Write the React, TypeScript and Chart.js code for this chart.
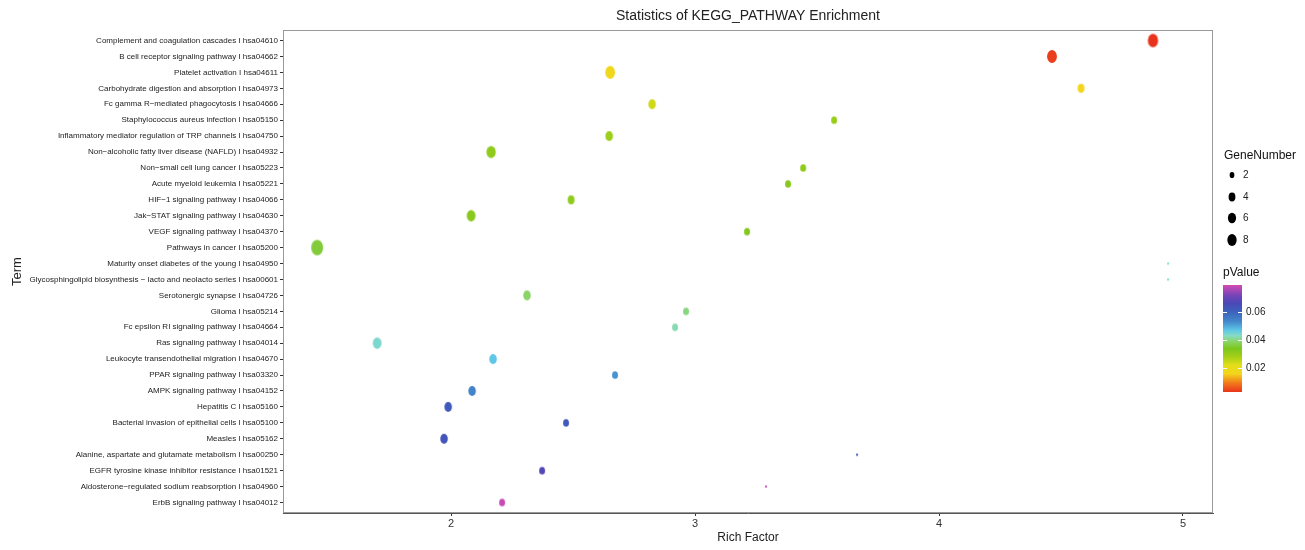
import React, { useEffect, useRef } from "react";
import { Chart, registerables } from "chart.js";

Chart.register(...registerables);

const terms = [
  "Complement and coagulation cascades I hsa04610",
  "B cell receptor signaling pathway I hsa04662",
  "Platelet activation I hsa04611",
  "Carbohydrate digestion and absorption I hsa04973",
  "Fc gamma R\u2212mediated phagocytosis I hsa04666",
  "Staphylococcus aureus infection I hsa05150",
  "Inflammatory mediator regulation of TRP channels I hsa04750",
  "Non\u2212alcoholic fatty liver disease (NAFLD) I hsa04932",
  "Non\u2212small cell lung cancer I hsa05223",
  "Acute myeloid leukemia I hsa05221",
  "HIF\u22121 signaling pathway I hsa04066",
  "Jak\u2212STAT signaling pathway I hsa04630",
  "VEGF signaling pathway I hsa04370",
  "Pathways in cancer I hsa05200",
  "Maturity onset diabetes of the young I hsa04950",
  "Glycosphingolipid biosynthesis \u2212 lacto and neolacto series I hsa00601",
  "Serotonergic synapse I hsa04726",
  "Glioma I hsa05214",
  "Fc epsilon RI signaling pathway I hsa04664",
  "Ras signaling pathway I hsa04014",
  "Leukocyte transendothelial migration I hsa04670",
  "PPAR signaling pathway I hsa03320",
  "AMPK signaling pathway I hsa04152",
  "Hepatitis C I hsa05160",
  "Bacterial invasion of epithelial cells I hsa05100",
  "Measles I hsa05162",
  "Alanine, aspartate and glutamate metabolism I hsa00250",
  "EGFR tyrosine kinase inhibitor resistance I hsa01521",
  "Aldosterone\u2212regulated sodium reabsorption I hsa04960",
  "ErbB signaling pathway I hsa04012",
];

const richFactor = [
  4.877, 4.463, 2.652, 4.582, 2.824, 3.57, 2.648, 2.164, 3.443, 3.381,
  2.492, 2.082, 3.213, 1.451, 4.939, 4.939, 2.311, 2.963, 2.918, 1.697,
  2.172, 2.672, 2.086, 1.988, 2.471, 1.971, 3.664, 2.373, 3.291, 2.209,
];

const geneNumber = [
  10, 9, 9, 4, 5, 3, 5, 8, 3, 3,
  4, 7, 3, 14, 1, 1, 5, 3, 3, 7,
  5, 3, 5, 5, 3, 5, 1, 3, 1, 3,
];

const pValue = [
  0.003, 0.004, 0.017, 0.016, 0.024, 0.03, 0.029, 0.031, 0.031, 0.032,
  0.031, 0.032, 0.033, 0.036, 0.043, 0.043, 0.039, 0.04, 0.042, 0.044,
  0.047, 0.052, 0.054, 0.062, 0.062, 0.063, 0.064, 0.067, 0.078, 0.078,
];

const xTicks = [2, 3, 4, 5];
const sizeBreaks = [2, 4, 6, 8];
const pBreaks = [0.02, 0.04, 0.06];

const P_MIN = 0.003;
const P_MAX = 0.079;

const colorStops: [number, string][] = [
  [0.003, "#e8341c"],
  [0.009, "#f2761a"],
  [0.016, "#f3d61c"],
  [0.022, "#e4de1a"],
  [0.028, "#a4d018"],
  [0.034, "#7cc61e"],
  [0.039, "#8ad46a"],
  [0.043, "#86dcc6"],
  [0.047, "#5ec6e6"],
  [0.053, "#4488cc"],
  [0.06, "#3c62bc"],
  [0.066, "#4a48b6"],
  [0.071, "#7044b8"],
  [0.079, "#d34bb4"],
];

function hexRgb(h: string): number[] {
  return [1, 3, 5].map((i) => parseInt(h.slice(i, i + 2), 16));
}

function colorFor(p: number): string {
  if (p <= colorStops[0][0]) return colorStops[0][1];
  for (let i = 1; i < colorStops.length; i++) {
    const [v1, c1] = colorStops[i];
    const [v0, c0] = colorStops[i - 1];
    if (p <= v1) {
      const t = (p - v0) / (v1 - v0);
      const a = hexRgb(c0);
      const b = hexRgb(c1);
      const r = a.map((x, k) => Math.round(x + (b[k] - x) * t));
      return `rgb(${r[0]},${r[1]},${r[2]})`;
    }
  }
  return colorStops[colorStops.length - 1][1];
}

function ellipseSize(n: number): [number, number] {
  const w = 2 * (1 + 5 * Math.sqrt(Math.max(0, (n - 1) / 13)));
  return [w, w * 1.3];
}

function makeEllipse(n: number, color: string): HTMLCanvasElement {
  const [w, h] = ellipseSize(n);
  const c = document.createElement("canvas");
  c.width = Math.ceil(w) + 2;
  c.height = Math.ceil(h) + 2;
  const ctx = c.getContext("2d")!;
  ctx.fillStyle = color;
  ctx.beginPath();
  ctx.ellipse(c.width / 2, c.height / 2, w / 2, h / 2, 0, 0, Math.PI * 2);
  ctx.fill();
  return c;
}

const FONT = "'Liberation Sans', Arial, Helvetica, sans-serif";

const decorPlugin = {
  id: "decor",
  beforeDatasetsDraw(chart: any) {
    const { ctx, chartArea } = chart;
    ctx.save();
    ctx.strokeStyle = "#999999";
    ctx.lineWidth = 1;
    ctx.strokeRect(
      chartArea.left + 0.5,
      chartArea.top + 0.5,
      chartArea.right - chartArea.left - 1,
      chartArea.bottom - chartArea.top - 1
    );
    ctx.restore();
  },
  afterDraw(chart: any) {
    const { ctx, chartArea } = chart;
    ctx.save();
    // title
    ctx.fillStyle = "#222";
    ctx.font = `14px ${FONT}`;
    ctx.textAlign = "center";
    ctx.textBaseline = "middle";
    ctx.fillText(
      "Statistics of KEGG_PATHWAY Enrichment",
      (chartArea.left + chartArea.right) / 2,
      16
    );

    // GeneNumber legend
    const lx = 1224;
    ctx.textAlign = "left";
    ctx.font = `12px ${FONT}`;
    ctx.fillStyle = "#111";
    ctx.fillText("GeneNumber", lx, 156);
    const ys = [175, 197, 218, 240];
    sizeBreaks.forEach((n, i) => {
      const [w, h] = ellipseSize(n);
      ctx.fillStyle = "#000";
      ctx.beginPath();
      ctx.ellipse(lx + 8, ys[i], w / 2, h / 2, 0, 0, Math.PI * 2);
      ctx.fill();
      ctx.font = `10px ${FONT}`;
      ctx.fillStyle = "#222";
      ctx.fillText(String(n), lx + 19, ys[i]);
    });

    // pValue legend
    ctx.font = `12px ${FONT}`;
    ctx.fillStyle = "#111";
    ctx.fillText("pValue", 1223, 273);
    const bx = 1223;
    const bw = 19;
    const bTop = 285;
    const bBot = 392;
    const yFor = (v: number) => bBot - ((v - P_MIN) / (P_MAX - P_MIN)) * (bBot - bTop);
    for (let y = bTop; y < bBot; y++) {
      const v = P_MIN + ((bBot - y - 0.5) / (bBot - bTop)) * (P_MAX - P_MIN);
      ctx.fillStyle = colorFor(v);
      ctx.fillRect(bx, y, bw, 1);
    }
    ctx.strokeStyle = "#ffffff";
    ctx.lineWidth = 1;
    pBreaks.forEach((v) => {
      const y = Math.round(yFor(v)) + 0.5;
      ctx.beginPath();
      ctx.moveTo(bx, y);
      ctx.lineTo(bx + 4, y);
      ctx.moveTo(bx + bw - 4, y);
      ctx.lineTo(bx + bw, y);
      ctx.stroke();
      ctx.font = `10px ${FONT}`;
      ctx.fillStyle = "#222";
      ctx.fillText(v.toFixed(2), bx + bw + 4, yFor(v));
    });
    ctx.restore();
  },
};

export default function App() {
  const ref = useRef<HTMLCanvasElement | null>(null);

  useEffect(() => {
    document.body.style.margin = "0";
    const canvas = ref.current!;
    const points = terms.map((_, i) => ({ x: richFactor[i], y: i }));
    const styles = terms.map((_, i) => makeEllipse(geneNumber[i], colorFor(pValue[i])));

    const chart = new Chart(canvas, {
      type: "scatter",
      data: {
        datasets: [
          {
            label: "terms",
            data: points,
            pointStyle: (c: any) => styles[c.dataIndex],
            pointRadius: 6,
            pointHoverRadius: 6,
          } as any,
        ],
      },
      options: {
        animation: false,
        responsive: false,
        events: [],
        layout: { padding: { left: 0, top: 30, right: 92, bottom: 0 } },
        plugins: {
          legend: { display: false },
          tooltip: { enabled: false },
          title: { display: false },
        },
        scales: {
          x: {
            type: "linear",
            min: 1.311,
            max: 5.123,
            afterBuildTicks: (s: any) => {
              s.ticks = xTicks.map((v) => ({ value: v }));
            },
            afterFit: (s: any) => {
              s.height = 37;
            },
            ticks: {
              font: { family: FONT, size: 11 },
              color: "#333",
              padding: 1,
              callback: (v: any) => String(v),
            },
            grid: {
              drawOnChartArea: false,
              drawTicks: true,
              tickLength: 3,
              color: "#333",
            },
            border: { display: true, color: "#555", width: 1 },
            title: {
              display: true,
              text: "Rich Factor",
              font: { family: FONT, size: 12 },
              color: "#222",
              padding: { top: 0, bottom: 5 },
            },
          },
          y: {
            type: "linear",
            reverse: true,
            min: -0.66,
            max: terms.length - 1 + 0.66,
            afterBuildTicks: (s: any) => {
              s.ticks = terms.map((_, i) => ({ value: i }));
            },
            afterFit: (s: any) => {
              s.width = 283;
            },
            ticks: {
              autoSkip: false,
              font: { family: FONT, size: 8 },
              color: "#222",
              padding: 2,
              callback: (v: any) => terms[v as number] ?? "",
            },
            grid: {
              drawOnChartArea: false,
              drawTicks: true,
              tickLength: 3,
              color: "#333",
            },
            border: { display: true, color: "#555", width: 1 },
            title: {
              display: true,
              text: "Term",
              font: { family: FONT, size: 13 },
              color: "#222",
              padding: { top: 10, bottom: 0 },
            },
          },
        },
      },
      plugins: [decorPlugin],
    } as any);

    return () => chart.destroy();
  }, []);

  return (
    <div style={{ width: 1305, height: 550, background: "#fff" }}>
      <canvas ref={ref} width={1305} height={550} style={{ display: "block" }} />
    </div>
  );
}
